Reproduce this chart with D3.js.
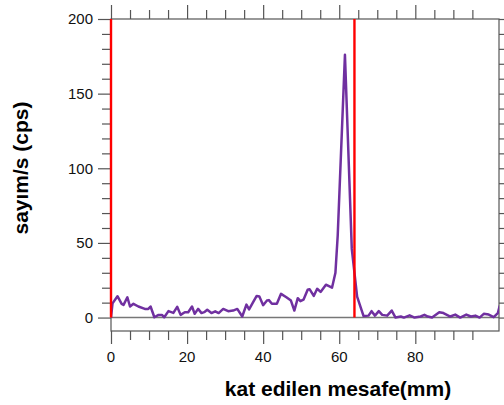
<!DOCTYPE html>
<html>
<head>
<meta charset="utf-8">
<script src="https://cdn.jsdelivr.net/npm/d3@7"></script>
<style>
  body { margin: 0; background: #fff; }
  svg { display: block; font-family: "Liberation Sans", Arial, sans-serif; }
</style>
</head>
<body>
<div id="chart"></div>
<script>
// distance (mm) and count rate (cps)
const distance = [0, 0.4, 1.7, 2.8, 3.3, 4.3, 5.0, 5.9, 7.2, 8.9, 9.8, 10.4, 11.4, 12.5, 13.4, 14.0,
  15.1, 16.4, 17.4, 18.3, 19.4, 20.3, 21.3, 22.0, 22.9, 23.8, 24.5, 25.3, 26.4, 27.4, 28.3, 29.5,
  30.8, 32.1, 33.2, 34.5, 35.6, 36.3, 37.4, 38.3, 39.0, 40.0, 41.0, 41.5, 42.3, 43.6, 44.7, 46.1,
  47.3, 48.2, 49.1, 49.8, 50.6, 51.7, 52.2, 53.3, 54.2, 55.1, 56.5, 58.1, 59.0, 59.6, 61.5, 63.3,
  64.7, 66.4, 67.7, 68.5, 69.4, 70.4, 71.3, 72.6, 73.8, 74.8, 76.2, 77.0, 78.5, 79.8, 81.4, 82.4,
  83.3, 84.4, 86.3, 87.4, 89.2, 90.5, 91.8, 93.4, 94.6, 95.8, 96.9, 98.0, 99.3, 100.6, 101.7, 102.2];
const cps = [0, 9.5, 14.3, 9.2, 8.5, 13.6, 7.4, 9.2, 7.4, 5.8, 5.8, 7.4, 0.2, 1.8, 1.8, 0.2,
  4.3, 3.1, 7.2, 1.8, 3.6, 3.6, 7.4, 2.5, 5.8, 3.0, 3.6, 5.2, 3.0, 4.2, 3.0, 5.8,
  4.3, 4.7, 5.8, 0.7, 8.7, 5.5, 10.5, 14.5, 14.1, 8.3, 11.4, 11.7, 9.2, 9.2, 15.9, 13.6,
  11.4, 4.7, 13.0, 11.0, 12.0, 18.6, 19.0, 14.5, 19.3, 17.2, 22.0, 20.0, 30, 55, 176, 46,
  14, 1.0, 1.3, 4.3, 1.3, 4.3, 1.8, 1.3, 4.7, 0, 0.7, 0, 1.5, 0, 0.7, 1.8,
  0.7, 0, 3.6, 3.0, 0.7, 2.0, 0, 2.0, 0.7, 1.3, 0, 2.5, 2.0, 0.3, 3.0, 8];

const markers = [0, 64];                 // red vertical lines (mm)
const xTicks = d3.range(0, 100, 5);      // minor ticks every 5 mm
const xLabels = [0, 20, 40, 60, 80];
const yTicks = d3.range(0, 201, 10);
const yLabels = [0, 50, 100, 150, 200];

const points = distance.map((d, i) => ({ x: d, y: cps[i] }));

const width = 504, height = 405;
const margin = { top: 19, right: 5, bottom: 74, left: 111 };
const usableArea = {
  left: margin.left,
  right: width - margin.right,
  top: margin.top,
  bottom: height - margin.bottom
};

const xScale = d3.scaleLinear().domain([0, 102]).range([usableArea.left, usableArea.right]);
const yScale = d3.scaleLinear().domain([-9, 200]).range([usableArea.bottom, usableArea.top]);

const svg = d3.select("#chart").append("svg")
  .attr("width", width)
  .attr("height", height);

svg.append("defs").append("clipPath").attr("id", "plot")
  .append("rect")
  .attr("x", usableArea.left).attr("y", usableArea.top)
  .attr("width", usableArea.right - usableArea.left)
  .attr("height", usableArea.bottom - usableArea.top);

const tickColor = "#555";

// zero reference line
svg.append("line")
  .attr("x1", usableArea.left).attr("x2", usableArea.right)
  .attr("y1", yScale(0)).attr("y2", yScale(0))
  .attr("stroke", "#777").attr("stroke-width", 1.5);

// ticks on all four sides, pointing outwards
function sideTicks(axis, ticks, majors, bigLen, smallLen) {
  axis.tickValues(ticks).tickSizeInner(0).tickSizeOuter(0).tickFormat("");
  return g => {
    g.call(axis);
    g.select(".domain").remove();
    g.selectAll(".tick line")
      .attr("stroke", tickColor)
      .attr("stroke-width", 1.2)
      .each(function (d) {
        const len = majors.includes(d) ? bigLen : smallLen;
        const el = d3.select(this);
        if (axis === axTop) el.attr("y2", -len);
        else if (axis === axBottom) el.attr("y2", len);
        else if (axis === axLeft) el.attr("x2", -len);
        else el.attr("x2", len);
      });
  };
}
const axTop = d3.axisTop(xScale);
const axBottom = d3.axisBottom(xScale);
const axLeft = d3.axisLeft(yScale);
const axRight = d3.axisRight(yScale);

svg.append("g").attr("transform", `translate(0,${usableArea.top})`)
  .call(sideTicks(axTop, xTicks, xLabels, 14, 9));
svg.append("g").attr("transform", `translate(0,${usableArea.bottom})`)
  .call(sideTicks(axBottom, xTicks, xLabels, 13, 9));
svg.append("g").attr("transform", `translate(${usableArea.left},0)`)
  .call(sideTicks(axLeft, yTicks, yLabels, 13, 9));
svg.append("g").attr("transform", `translate(${usableArea.right},0)`)
  .call(sideTicks(axRight, yTicks, yLabels, 13, 9));

// tick labels
svg.append("g").selectAll("text").data(xLabels).join("text")
  .attr("x", d => xScale(d))
  .attr("y", usableArea.bottom + 31)
  .attr("text-anchor", "middle")
  .attr("font-size", 15)
  .attr("fill", "#111")
  .text(d => d);

svg.append("g").selectAll("text").data(yLabels).join("text")
  .attr("x", usableArea.left - 18)
  .attr("y", d => yScale(d))
  .attr("dy", "0.35em")
  .attr("text-anchor", "end")
  .attr("font-size", 15)
  .attr("fill", "#111")
  .text(d => d);

// frame
svg.append("rect")
  .attr("x", usableArea.left).attr("y", usableArea.top)
  .attr("width", usableArea.right - usableArea.left)
  .attr("height", usableArea.bottom - usableArea.top)
  .attr("fill", "none")
  .attr("stroke", tickColor)
  .attr("stroke-width", 1.2);

// data line
const line = d3.line().x(d => xScale(d.x)).y(d => yScale(d.y));
svg.append("path")
  .datum(points)
  .attr("clip-path", "url(#plot)")
  .attr("d", line)
  .attr("fill", "none")
  .attr("stroke", "#7030a0")
  .attr("stroke-width", 2.5)
  .attr("stroke-linejoin", "round");

// red markers
svg.append("g").selectAll("line").data(markers).join("line")
  .attr("x1", d => xScale(d)).attr("x2", d => xScale(d))
  .attr("y1", usableArea.top).attr("y2", yScale(0))
  .attr("stroke", "#ff0000")
  .attr("stroke-width", 2.4);

// axis titles
svg.append("text")
  .attr("x", 338).attr("y", 396)
  .attr("text-anchor", "middle")
  .attr("font-size", 21)
  .attr("font-weight", "bold")
  .text("kat edilen mesafe(mm)");

svg.append("text")
  .attr("transform", "translate(28,168) rotate(-90)")
  .attr("text-anchor", "middle")
  .attr("font-size", 21)
  .attr("font-weight", "bold")
  .text("sayım/s (cps)");
</script>
</body>
</html>
